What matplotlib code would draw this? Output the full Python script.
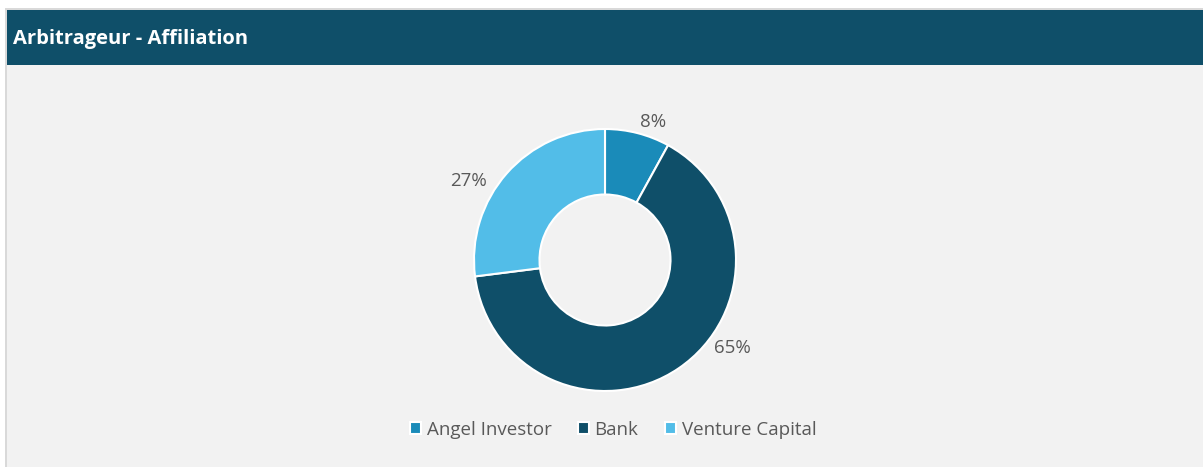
import matplotlib.pyplot as plt
from matplotlib.patches import Rectangle

# Daten
categories = ['Angel Investor', 'Bank', 'Venture Capital']
values = [8, 65, 27]
colors = ['#1A8BB9', '#0F4F69', '#52BDE8']
title = 'Arbitrageur - Affiliation'

plt.rcParams['font.family'] = ['Open Sans', 'DejaVu Sans']

W, H = 1203, 470
fig = plt.figure(figsize=(W / 100, H / 100), dpi=100)
fig.patch.set_facecolor('white')

def px(x0, y0, x1, y1):
    # Pixelrechteck (oben links als Ursprung) -> Figurkoordinaten
    return (x0 / W, 1 - y1 / H, (x1 - x0) / W, (y1 - y0) / H)

# Rahmen, Hintergrund und Kopfzeile
l, b, w, h = px(5, 8, W, 467)
fig.patches.append(Rectangle((l, b), w, h, transform=fig.transFigure,
                             facecolor='#D9D9D9', edgecolor='none', zorder=-3))
l, b, w, h = px(7, 10, W, 467)
fig.patches.append(Rectangle((l, b), w, h, transform=fig.transFigure,
                             facecolor='#F2F2F2', edgecolor='none', zorder=-2))
l, b, w, h = px(7, 10, W, 65)
fig.patches.append(Rectangle((l, b), w, h, transform=fig.transFigure,
                             facecolor='#0F4F69', edgecolor='none', zorder=-1))
fig.text(13 / W, 1 - 39 / H, title, color='white', fontsize=14.5,
         fontweight='bold', va='center', ha='left')

# Donut
R = 131
cx, cy = 605, 260
ax = fig.add_axes(px(cx - R, cy - R, cx + R, cy + R))
ax.set_zorder(2)
ax.set_facecolor('none')
wedges, _ = ax.pie(values, colors=colors, startangle=90, counterclock=False,
                   radius=1, wedgeprops=dict(width=0.5, edgecolor='white', linewidth=1.5))
ax.set_xlim(-1, 1)
ax.set_ylim(-1, 1)
ax.set_aspect('equal')
ax.axis('off')

# Beschriftungen (Positionen wie im Original)
label_pos = [(0.37, 1.05), (0.97, -0.67), (-1.04, 0.60)]
for v, (lx, ly) in zip(values, label_pos):
    ax.text(lx, ly, f'{v}%', ha='center', va='center', fontsize=13.5,
            color='#595959', clip_on=False)

# Legende
leg = fig.legend(wedges, categories, loc='center', bbox_to_anchor=(613 / W, 1 - 430 / H),
                 ncol=3, frameon=False, fontsize=13.5, handlelength=0.6, handleheight=0.6,
                 handletextpad=0.3, columnspacing=1.4)
for t in leg.get_texts():
    t.set_color('#595959')

fig.savefig('out.png', dpi=100, facecolor=fig.get_facecolor())
